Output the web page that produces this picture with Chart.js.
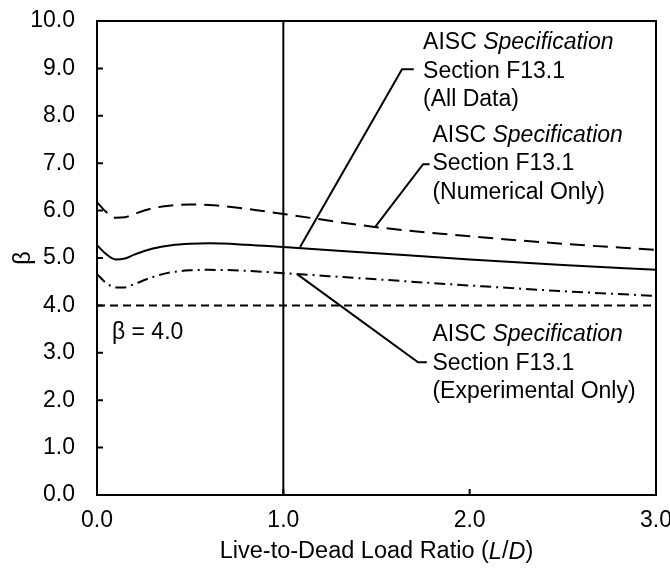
<!DOCTYPE html>
<html>
<head>
<meta charset="utf-8">
<script src="https://cdn.jsdelivr.net/npm/chart.js@4.4.0/dist/chart.umd.min.js"></script>
<style>
  body { margin: 0; background: #fff; }
  #wrap { width: 670px; height: 571px; }
</style>
</head>
<body>
<div id="wrap"><canvas id="beta-chart"></canvas></div>
<script>
// data
const ratioLD = [0, 0.05, 0.1, 0.15, 0.2, 0.3, 0.4, 0.5, 0.6, 0.8, 1.0, 1.5, 2.0, 2.5, 3.0];
const betaAll = [5.27, 5.08, 4.97, 4.99, 5.07, 5.2, 5.27, 5.3, 5.31, 5.28, 5.23, 5.1, 4.97, 4.85, 4.75];
const betaNumerical = [6.18, 5.97, 5.85, 5.86, 5.93, 6.05, 6.11, 6.13, 6.12, 6.04, 5.93, 5.65, 5.46, 5.3, 5.17];
const betaExperimental = [4.66, 4.47, 4.38, 4.38, 4.45, 4.6, 4.7, 4.74, 4.75, 4.73, 4.68, 4.55, 4.42, 4.3, 4.2];
const betaTarget = 4.0;
const yTicks = [0, 1, 2, 3, 4, 5, 6, 7, 8, 9, 10];
const xTicks = [0, 1, 2, 3];

const FONT = "'Liberation Sans', Arial, sans-serif";
const FS = 23;

function toPts(ys) {
  return ratioLD.map((x, i) => ({ x: x, y: ys[i] }));
}

// callouts: text lines + leader line (data coords)
const callouts = [
  { lines: [[["AISC ", ""], ["Specification", "italic"]], [["Section F13.1", ""]], [["(All Data)", ""]]],
    tx: 1.75, ty: 9.54, leader: [[1.09, 5.23], [1.637, 8.98], [1.70, 8.98]] },
  { lines: [[["AISC ", ""], ["Specification", "italic"]], [["Section F13.1", ""]], [["(Numerical Only)", ""]]],
    tx: 1.80, ty: 7.59, leader: [[1.492, 5.65], [1.75, 6.98], [1.785, 6.98]] },
  { lines: [[["AISC ", ""], ["Specification", "italic"]], [["Section F13.1", ""]], [["(Experimental Only)", ""]]],
    tx: 1.80, ty: 3.38, leader: [[1.074, 4.66], [1.723, 2.80], [1.77, 2.80]] }
];

function drawRich(ctx, parts, x, y, align, size) {
  const fs = size || FS;
  let w = 0;
  parts.forEach(p => { ctx.font = (p[1] ? p[1] + " " : "") + fs + "px " + FONT; w += ctx.measureText(p[0]).width; });
  let cx = align === "center" ? x - w / 2 : x;
  parts.forEach(p => {
    ctx.font = (p[1] ? p[1] + " " : "") + fs + "px " + FONT;
    ctx.fillText(p[0], cx, y);
    cx += ctx.measureText(p[0]).width;
  });
}

const extras = {
  id: "extras",
  afterDraw(chart) {
    const ctx = chart.ctx;
    const xs = chart.scales.x, ys = chart.scales.y;
    const a = chart.chartArea;
    ctx.save();
    ctx.strokeStyle = "#000";
    ctx.fillStyle = "#000";
    // frame
    ctx.lineWidth = 2;
    ctx.strokeRect(a.left, a.top, a.right - a.left, a.bottom - a.top);
    // inward ticks
    ctx.beginPath();
    yTicks.forEach(v => { const py = ys.getPixelForValue(v); ctx.moveTo(a.left, py); ctx.lineTo(a.left + 6, py); });
    xTicks.forEach(v => { const px = xs.getPixelForValue(v); ctx.moveTo(px, a.bottom); ctx.lineTo(px, a.bottom - 6); });
    ctx.stroke();
    // leaders
    callouts.forEach(c => {
      ctx.beginPath();
      c.leader.forEach((p, i) => {
        const px = xs.getPixelForValue(p[0]), py = ys.getPixelForValue(p[1]);
        if (i === 0) ctx.moveTo(px, py); else ctx.lineTo(px, py);
      });
      ctx.stroke();
    });
    // callout text
    ctx.textBaseline = "middle";
    callouts.forEach(c => {
      const px = xs.getPixelForValue(c.tx);
      let py = ys.getPixelForValue(c.ty);
      c.lines.forEach(line => { drawRich(ctx, line, px, py, "left"); py += 28.5; });
    });
    // beta = 4.0 label
    drawRich(ctx, [["\u03b2 = 4.0", ""]], xs.getPixelForValue(0.08), ys.getPixelForValue(3.43), "left");
    // axis titles
    drawRich(ctx, [["Live-to-Dead Load Ratio (", ""], ["L", "italic"], ["/", ""], ["D", "italic"], [")", ""]],
      (a.left + a.right) / 2, 552, "center", 23.5);
    ctx.translate(24, (a.top + a.bottom) / 2);
    ctx.rotate(-Math.PI / 2);
    drawRich(ctx, [["\u03b2", ""]], 0, 0, "center", 23.5);
    ctx.restore();
  }
};

const lineBase = { borderColor: "#000", borderWidth: 2, pointRadius: 0, fill: false };

new Chart(document.getElementById("beta-chart"), {
  type: "line",
  data: {
    datasets: [
      Object.assign({ label: "All Data", data: toPts(betaAll), cubicInterpolationMode: "monotone" }, lineBase),
      Object.assign({ label: "Numerical Only", data: toPts(betaNumerical), cubicInterpolationMode: "monotone", borderDash: [15, 8] }, lineBase),
      Object.assign({ label: "Experimental Only", data: toPts(betaExperimental), cubicInterpolationMode: "monotone", borderDash: [11, 5, 2, 5] }, lineBase),
      Object.assign({ label: "Target", data: [{ x: 0, y: betaTarget }, { x: 3, y: betaTarget }], borderDash: [8, 5] }, lineBase),
      Object.assign({ label: "L/D = 1", data: [{ x: 1, y: 0 }, { x: 1, y: 10 }] }, lineBase)
    ]
  },
  options: {
    responsive: true,
    maintainAspectRatio: false,
    animation: false,
    events: [],
    layout: { padding: { left: 0, top: 21, right: 14, bottom: 0 } },
    plugins: { legend: { display: false }, tooltip: { enabled: false } },
    scales: {
      x: {
        type: "linear", min: 0, max: 3,
        afterFit: s => { s.height = 76; s.paddingLeft = 0; s.paddingRight = 0; },
        afterBuildTicks: s => { s.ticks = xTicks.map(v => ({ value: v })); },
        grid: { display: false, drawTicks: false },
        border: { display: false },
        ticks: { color: "#000", padding: 12, font: { family: FONT, size: FS }, callback: v => v.toFixed(1) }
      },
      y: {
        type: "linear", min: 0, max: 10,
        afterFit: s => { s.width = 97; s.paddingTop = 0; s.paddingBottom = 0; },
        afterBuildTicks: s => { s.ticks = yTicks.map(v => ({ value: v })); },
        grid: { display: false, drawTicks: false },
        border: { display: false },
        ticks: { color: "#000", padding: 22, font: { family: FONT, size: FS }, callback: v => v.toFixed(1) }
      }
    }
  },
  plugins: [extras]
});
</script>
</body>
</html>
